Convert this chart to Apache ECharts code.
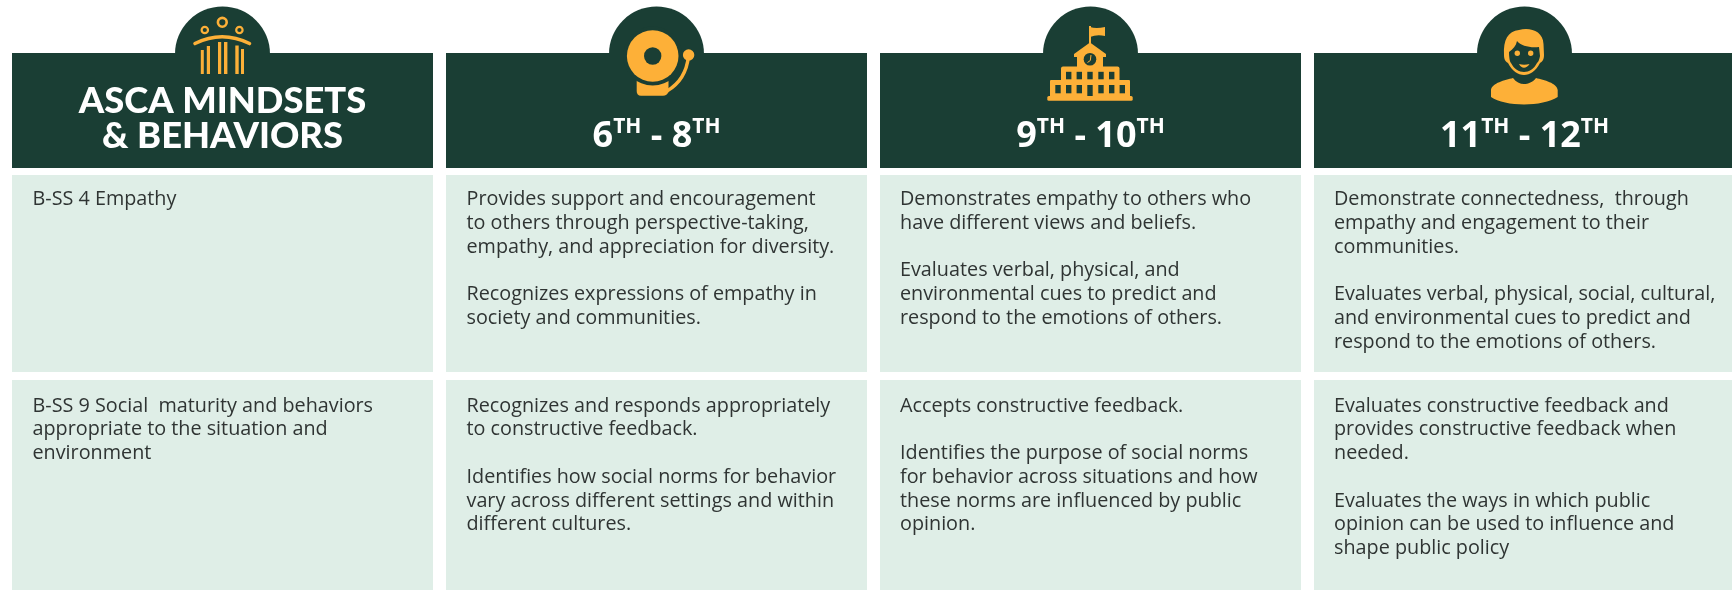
<!DOCTYPE html>
<html><head><meta charset="utf-8">
<script src="https://cdn.jsdelivr.net/npm/echarts@6/dist/echarts.min.js"></script>
<style>html,body{margin:0;padding:0;background:#fff}#c{width:1732px;height:590px}</style>
</head><body><div id="c"></div>
<script>
// ---------- content ----------
const columns = ['ASCA', 'G6', 'G9', 'G11'];
const rows = ['header', 'empathy', 'social'];
const headTitle = 'ASCA MINDSETS\n& BEHAVIORS';
const gradeHeads = ['{d|6}{s|TH}{d| - 8}{s|TH}', '{d|9}{s|TH}{d| - 10}{s|TH}', '{d|11}{s|TH}{d| - 12}{s|TH}'];
const mindsets = [
  'B-SS 4 Empathy',
  'B-SS 9 Social  maturity and behaviors\nappropriate to the situation and\nenvironment'
];
const grade6to8 = [
  'Provides support and encouragement\nto others through perspective-taking,\nempathy, and appreciation for diversity.\n\nRecognizes expressions of empathy in\nsociety and communities.',
  'Recognizes and responds appropriately\nto constructive feedback.\n\nIdentifies how social norms for behavior\nvary across different settings and within\ndifferent cultures.'
];
const grade9to10 = [
  'Demonstrates empathy to others who\nhave different views and beliefs.\n\nEvaluates verbal, physical, and\nenvironmental cues to predict and\nrespond to the emotions of others.',
  'Accepts constructive feedback.\n\nIdentifies the purpose of social norms\nfor behavior across situations and how\nthese norms are influenced by public\nopinion.'
];
const grade11to12 = [
  'Demonstrate connectedness,  through\nempathy and engagement to their\ncommunities.\n\nEvaluates verbal, physical, social, cultural,\nand environmental cues to predict and\nrespond to the emotions of others.',
  'Evaluates constructive feedback and\nprovides constructive feedback when\nneeded.\n\nEvaluates the ways in which public\nopinion can be used to influence and\nshape public policy'
];
const bodyByColumn = [mindsets, grade6to8, grade9to10, grade11to12];

// ---------- layout & style ----------
const DARK = '#1a3e34', CELL = '#dfeee7', GOLD = '#fdb038', INK = '#2f3433';
const rowEdges = [[53, 168], [175, 372], [380, 590]];
const CELL_W = 421, BUMP_R = 47.5, BUMP_Y = 54, PAD = 20;
const GRID_LEFT = 5.5, COL_STEP = 434, GRID_W = 1732 - GRID_LEFT;

const cellData = [];
columns.forEach((c, ci) => rows.forEach((r, ri) => {
  cellData.push([ci, ri, ri === 0 ? (ci === 0 ? headTitle : gradeHeads[ci - 1]) : bodyByColumn[ci][ri - 1]]);
}));

function renderCell(params, api) {
  const ci = api.value(0), ri = api.value(1);
  const text = cellData[params.dataIndex][2];
  const cx = api.coord([ci, 0])[0];
  const top = api.coord([0, rowEdges[ri][0]])[1];
  const bot = api.coord([0, rowEdges[ri][1]])[1];
  const x = cx - CELL_W / 2;
  const kids = [];
  if (ri === 0) {
    kids.push({type: 'circle', shape: {cx, cy: BUMP_Y, r: BUMP_R}, style: {fill: DARK}});
    kids.push({type: 'rect', shape: {x, y: top, width: CELL_W, height: bot - top}, style: {fill: DARK}});
    if (ci === 0) {
      kids.push({type: 'text', style: {text, x: cx, y: 118.5, align: 'center', verticalAlign: 'middle',
        fontFamily: 'Lato', fontWeight: 900, fontSize: 36.3, lineHeight: 35, fill: '#fff'}});
    } else {
      kids.push({type: 'text', style: {text, x: cx, y: 137, align: 'center', verticalAlign: 'middle',
        fill: '#fff', rich: {
          d: {fontFamily: 'Open Sans', fontWeight: 700, fontSize: 36, lineHeight: 40, fill: '#fff'},
          s: {fontFamily: 'Open Sans', fontWeight: 700, fontSize: 21, lineHeight: 24, verticalAlign: 'top', fill: '#fff'}
        }}});
    }
  } else {
    kids.push({type: 'rect', shape: {x, y: top, width: CELL_W, height: bot - top}, style: {fill: CELL}});
    kids.push({type: 'text', style: {text, x: x + PAD + (ci < 2 ? 0.5 : 0), y: top + (ri === 1 ? 12.6 : 14), align: 'left', verticalAlign: 'top',
      fontFamily: 'Open Sans', fontSize: 19.8, lineHeight: 23.75, fill: INK}});
  }
  return {type: 'group', children: kids};
}

// ---------- icons ----------
const gold = {fill: GOLD};
const goldLine = w => ({fill: 'none', stroke: GOLD, lineWidth: w, lineCap: 'round'});
const P = (d, style) => ({type: 'path', shape: {pathData: d}, style});
const C = (cx, cy, r, style) => ({type: 'circle', shape: {cx, cy, r}, style});
const R = (x, y, w, h, fill, r) => ({type: 'rect', shape: {x, y, width: w, height: h, r: r || 0}, style: {fill}});

const iconAsca = [
  C(222.3, 22.3, 4.4, {fill: 'none', stroke: GOLD, lineWidth: 2.6}),
  C(204.8, 30, 3.2, {fill: 'none', stroke: GOLD, lineWidth: 2.2}),
  C(239.4, 30, 3.2, {fill: 'none', stroke: GOLD, lineWidth: 2.2}),
  P('M195 43.5 Q222 30 249.5 43.5', goldLine(3.6)),
  R(200.8, 50, 3, 24, GOLD), R(206.8, 46, 3.2, 28, GOLD),
  R(218, 42, 3.2, 32, GOLD), R(224, 42, 3.4, 32, GOLD),
  R(235.3, 45.5, 3.4, 28.5, GOLD), R(241, 49, 3, 25, GOLD)
];
const iconBell = [
  P('M636.7 80 L636.7 91 Q636.7 95.7 641 95.7 L663 95.7 Q667 95.7 668.5 92 L668.5 80 Z', gold),
  P('M667 91 Q686 80 688.5 56', {fill: 'none', stroke: GOLD, lineWidth: 3.4}),
  C(688.6, 55, 5.7, gold),
  C(652.7, 56, 29.6, {fill: DARK}),
  C(652.7, 56, 25.8, gold),
  C(652.7, 56, 8.7, {fill: DARK})
];
const iconSchool = [
  R(1089, 26, 2, 18, GOLD),
  P('M1090 27 Q1096 29 1105 27 L1105 36 Q1097 34 1090 37 Z', gold),
  P('M1090 42.5 L1106 54 L1106 57 L1103 57 L1103 68 L1077 68 L1077 57 L1074 57 L1074 54 Z', gold),
  C(1090, 59.3, 6.3, {fill: DARK}),
  P('M1091 55 L1090.3 60.5 L1087.5 62.5', {fill: 'none', stroke: GOLD, lineWidth: 1}),
  R(1061, 66.5, 58.5, 15, GOLD, 2),
  R(1050, 80, 80, 18, GOLD, 1),
  R(1047.3, 96, 85.4, 4.8, GOLD, 1.5)
].concat([1068.7, 1079.3, 1090, 1101, 1111.7].map(x => R(x - 2.7, 71.8, 5.4, 7.5, DARK)))
 .concat([1058, 1068.7, 1079.3, 1101, 1111.7, 1122.3].map(x => R(x - 2.7, 85, 5.4, 8.3, DARK)))
 .concat([R(1087.3, 85, 5.4, 11, DARK)]);
const iconPerson = [
  P('M1504 55 C1503 40 1508 31 1519 30 C1530 27 1543 31 1543.5 44 L1544 55 C1544 60 1542 62 1540 63 C1536 71 1530 75 1524 75 C1518 75 1512 71 1508 63 C1506 62 1504 60 1504 55 Z', gold),
  P('M1509 52 C1513 49 1516 46 1517 41 C1521 46 1530 48 1539 47 L1540 56 C1539 61 1538 62 1537 63 C1534 69 1529 72 1524 72 C1519 72 1514 69 1511 63 C1510 62 1509 58 1509 52 Z', {fill: DARK}),
  C(1517.3, 53.3, 2.7, gold), C(1530.7, 53.3, 2.7, gold),
  P('M1519 64 Q1524 65.5 1529.5 64 Q1527 67.8 1524 67.8 Q1521 67.8 1519 64 Z', gold),
  P('M1513 78 C1516 82 1520 84 1524 84 C1528 84 1533 82 1536 78 C1544 80 1557 83 1557.7 90 L1557.7 97 C1550 102 1537 104.4 1524 104.4 C1511 104.4 1498 102 1491 97 L1491 90 C1492 83 1505 80 1513 78 Z', gold)
];
const icons = [iconAsca, iconBell, iconSchool, iconPerson];

const chart = echarts.init(document.getElementById('c'), null, {renderer: 'canvas'});
chart.setOption({
  animation: false,
  backgroundColor: '#fff',
  tooltip: {show: false},
  grid: {left: GRID_LEFT, top: 0, right: 0, bottom: 0, containLabel: false},
  xAxis: {type: 'value', min: -0.5, max: -0.5 + GRID_W / COL_STEP, show: false, scale: true},
  yAxis: {type: 'value', min: 0, max: 590, inverse: true, show: false},
  series: [
    {type: 'custom', data: cellData.map(d => [d[0], d[1]]), renderItem: renderCell, silent: true, clip: false, z: 2},
    {type: 'custom', data: columns.map((c, i) => [i, 0]), silent: true, clip: false, z: 3,
     renderItem: (params) => ({type: 'group', children: icons[params.dataIndex]})}
  ]
});
</script></body></html>
